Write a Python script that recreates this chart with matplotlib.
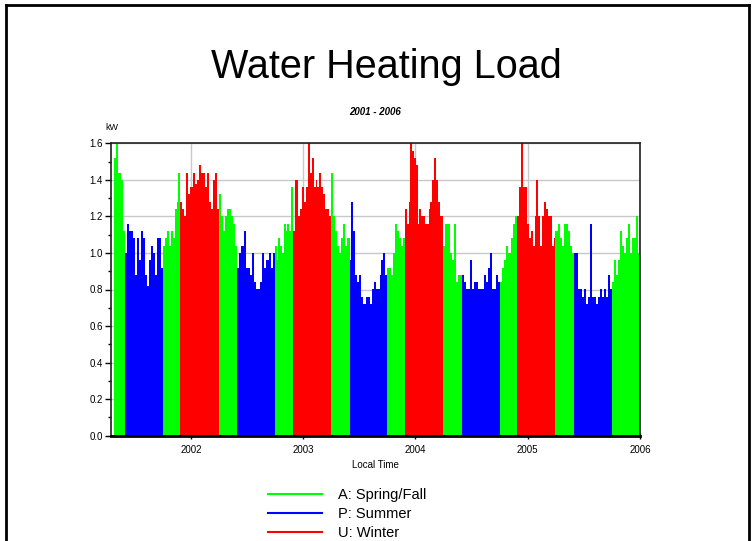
import datetime as dt
import numpy as np
import matplotlib
matplotlib.use('Agg')
import matplotlib.pyplot as plt
import matplotlib.dates as mdates
from matplotlib.lines import Line2D
from matplotlib.ticker import MultipleLocator, FormatStrFormatter

# ---------------- data (weekly peak load, kW) ----------------
season_labels = {'A': 'A: Spring/Fall', 'P': 'P: Summer', 'U': 'U: Winter'}
season_colors = {'A': '#00ff00', 'P': '#0000ff', 'U': '#ff0000'}

spring_2001 = [1.52, 1.60, 1.44, 1.40, 1.12]
summer_2001 = [1.00, 1.16, 1.12, 1.12, 1.08, 0.88, 1.08, 0.96, 1.12, 1.08,
               0.88, 0.82, 0.96, 1.04, 1.00, 0.88, 1.08, 1.08, 0.92]
fall_2001 = [1.04, 1.08, 1.12, 1.04, 1.12, 1.08, 1.24, 1.28, 1.44]
winter_2002 = [1.28, 1.24, 1.20, 1.44, 1.32, 1.36, 1.44, 1.38, 1.40, 1.48,
               1.44, 1.44, 1.36, 1.44, 1.28, 1.24, 1.40, 1.44, 1.24]
spring_2002 = [1.32, 1.20, 1.12, 1.20, 1.24, 1.24, 1.20, 1.16, 1.04]
summer_2002 = [0.92, 1.00, 1.04, 1.12, 0.92, 0.92, 0.88, 1.00, 0.84, 0.80,
               0.80, 0.84, 1.00, 0.92, 0.96, 1.00, 0.92, 1.00]
fall_2002 = [1.04, 0.96, 1.08, 1.04, 1.00, 1.16, 1.12, 1.16, 1.12, 1.36]
winter_2003 = [1.12, 1.40, 1.40, 1.20, 1.24, 1.36, 1.28, 1.36, 1.60, 1.44,
               1.52, 1.36, 1.40, 1.36, 1.44, 1.36, 1.32, 1.24, 1.24, 1.20]
spring_2003 = [1.44, 1.20, 1.12, 1.04, 1.00, 1.08, 1.16, 1.04, 1.08]
summer_2003 = [0.96, 1.28, 1.12, 0.88, 0.84, 0.88, 0.76, 0.72, 0.72, 0.76,
               0.76, 0.72, 0.80, 0.84, 0.80, 0.80, 0.88, 0.96, 1.00, 0.88]
fall_2003 = [0.92, 0.92, 0.88, 1.00, 1.16, 1.12, 1.08, 1.04, 1.08]
winter_2004 = [1.24, 1.16, 1.28, 1.60, 1.56, 1.52, 1.48, 1.16, 1.24, 1.20,
               1.20, 1.16, 1.16, 1.24, 1.28, 1.40, 1.52, 1.40, 1.28, 1.20, 1.20]
spring_2004 = [1.04, 1.16, 1.16, 1.00, 0.96, 1.16, 0.84, 0.88, 0.88]
summer_2004 = [0.88, 0.84, 0.80, 0.80, 0.96, 0.80, 0.84, 0.84, 0.80, 0.80,
               0.80, 0.88, 0.84, 0.92, 1.00, 0.80, 0.80, 0.88, 0.84]
fall_2004 = [0.84, 0.92, 0.96, 1.04, 1.00, 1.08, 1.16, 1.20]
winter_2005 = [1.20, 1.36, 1.60, 1.36, 1.36, 1.16, 1.08, 1.12, 1.04, 1.20,
               1.40, 1.20, 1.04, 1.20, 1.28, 1.24, 1.20, 1.20, 1.04, 1.08]
spring_2005 = [1.12, 1.16, 1.08, 1.04, 1.16, 1.16, 1.12, 1.04, 1.00]
summer_2005 = [1.00, 1.00, 0.80, 0.80, 0.76, 0.80, 0.72, 0.76, 1.16, 0.76,
               0.76, 0.72, 0.76, 0.80, 0.76, 0.80, 0.76, 0.88, 0.80]
fall_2005 = [0.84, 0.96, 0.88, 0.96, 1.12, 1.04, 1.00, 1.08, 1.16, 1.00,
             1.08, 1.08, 1.20, 1.00]

segments = [
    ('A', '2001-04-25', spring_2001), ('P', '2001-06-01', summer_2001),
    ('A', '2001-10-01', fall_2001), ('U', '2001-11-28', winter_2002),
    ('A', '2002-04-01', spring_2002), ('P', '2002-06-01', summer_2002),
    ('A', '2002-10-01', fall_2002), ('U', '2002-11-28', winter_2003),
    ('A', '2003-04-01', spring_2003), ('P', '2003-06-01', summer_2003),
    ('A', '2003-10-01', fall_2003), ('U', '2003-11-28', winter_2004),
    ('A', '2004-04-01', spring_2004), ('P', '2004-06-01', summer_2004),
    ('A', '2004-10-01', fall_2004), ('U', '2004-11-28', winter_2005),
    ('A', '2005-04-01', spring_2005), ('P', '2005-06-01', summer_2005),
    ('A', '2005-10-01', fall_2005),
]
data_end = '2006-01-01'
x_start, x_end = '2001-04-16', '2006-01-01'
year_ticks = ['2002', '2003', '2004', '2005', '2006']

# ---------------- figure ----------------
W, H = 753, 541
fig = plt.figure(figsize=(W / 100, H / 100), dpi=100)
fig.patch.set_facecolor('white')

sans = ['Liberation Sans', 'DejaVu Sans']

def fx(px):
    return px / W

def fy(py):
    return 1 - py / H

ax = fig.add_axes([fx(111), fy(435.7), fx(640) - fx(111), fy(143.3) - fy(435.7)])

d2n = lambda s: mdates.date2num(dt.datetime.strptime(s, '%Y-%m-%d'))

starts = [d2n(s) for _, s, _ in segments] + [d2n(data_end)]
for i, (code, _, vals) in enumerate(segments):
    edges = np.linspace(starts[i], starts[i + 1], len(vals) + 1)
    yv = np.append(vals, vals[-1])
    ax.fill_between(edges, 0, yv, step='post', color=season_colors[code],
                    linewidth=0, zorder=2)

ax.xaxis_date()
ax.set_xlim(d2n(x_start), d2n(x_end))
ax.set_ylim(0, 1.6)
ax.set_xticks([d2n(y + '-01-01') for y in year_ticks])
ax.set_xticklabels(year_ticks, fontsize=7, family=sans)
ax.yaxis.set_major_locator(MultipleLocator(0.2))
ax.yaxis.set_minor_locator(MultipleLocator(0.1))
ax.yaxis.set_major_formatter(FormatStrFormatter('%.1f'))
for lab in ax.get_yticklabels():
    lab.set_fontsize(7)
    lab.set_family(sans)
ax.tick_params(axis='y', which='major', direction='out', length=4, width=1, pad=2)
ax.tick_params(axis='y', which='minor', direction='out', length=2, width=1)
ax.tick_params(axis='x', which='major', direction='inout', length=5, width=1, pad=4)

ax.grid(True, which='major', color='#c8c8c8', linewidth=1, zorder=0)
ax.set_axisbelow(True)
for side in ['left', 'top', 'right']:
    ax.spines[side].set_color('#202020')
    ax.spines[side].set_linewidth(1.2)
ax.spines['bottom'].set_color('black')
ax.spines['bottom'].set_linewidth(2)

ax.set_xlabel('Local Time', fontsize=7, family=sans, labelpad=4)

fig.text(fx(112), fy(127), 'kW', fontsize=6.5, family=sans, ha='center', va='center')
fig.text(fx(375), fy(112), '2001 - 2006', fontsize=7, family=sans,
         fontweight='bold', fontstyle='italic', ha='center', va='center')
fig.text(fx(386), fy(78), 'Water Heating Load', fontsize=28.5, family=sans,
         ha='center', va='baseline')

# legend
handles = [Line2D([], [], color=season_colors[k], linewidth=1.5) for k in ['A', 'P', 'U']]
labels = [season_labels[k] for k in ['A', 'P', 'U']]
fig.legend(handles, labels, loc='upper left', bbox_to_anchor=(fx(268), fy(488)),
           frameon=False, prop={'family': sans, 'size': 10.5},
           handlelength=3.7, handletextpad=1.1, labelspacing=0.35,
           borderaxespad=0, borderpad=0)

# slide border
border = dict(color='black', linewidth=2, transform=fig.transFigure)
fig.add_artist(Line2D([fx(6), fx(6)], [0, fy(5)], **border))
fig.add_artist(Line2D([fx(6), fx(749)], [fy(5), fy(5)], **border))
fig.add_artist(Line2D([fx(749), fx(749)], [fy(5), 0], **border))

fig.savefig('out.png', dpi=100, facecolor='white')
